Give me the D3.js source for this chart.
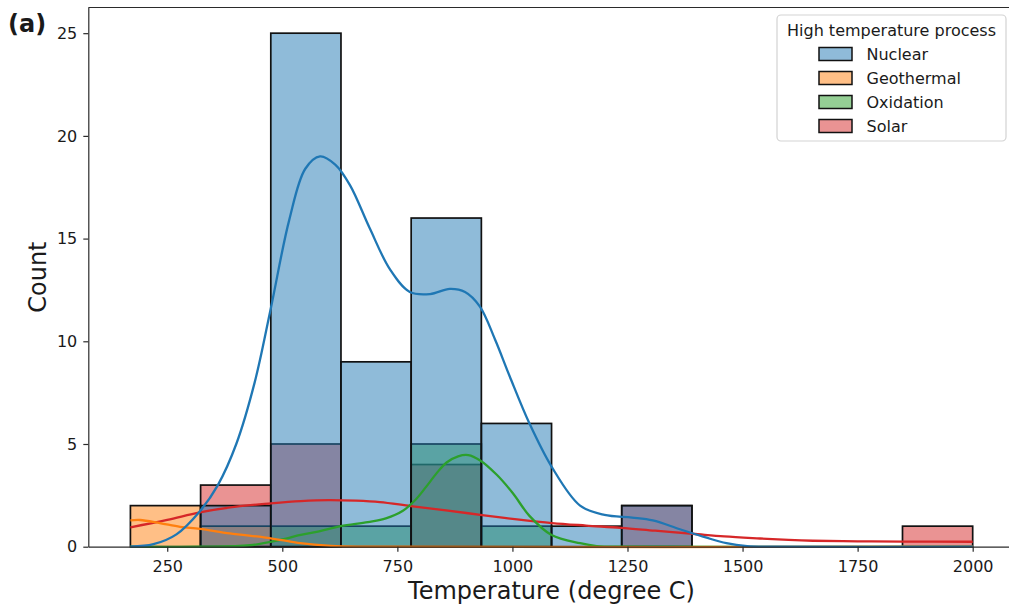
<!DOCTYPE html>
<html><head><meta charset="utf-8">
<script src="https://cdn.jsdelivr.net/npm/d3@7"></script>
<style>
body{margin:0;background:#fff}
svg text{font-family:"DejaVu Sans",sans-serif;fill:#1a1a1a}
</style>
</head><body>
<svg id="c" width="1009" height="608"></svg>
<script>
// ---------- data ----------
const categories = ["Nuclear", "Geothermal", "Oxidation", "Solar"];
const binEdges = [170, 322.5, 475, 627.5, 780, 932.5, 1085, 1237.5, 1390, 1542.5, 1695, 1847.5, 2000];
const nuclearCounts    = [0, 2, 25, 9, 16, 6, 1, 2, 0, 0, 0, 0];
const geothermalCounts = [2, 1, 0, 0, 0, 0, 0, 0, 0, 0, 0, 0];
const oxidationCounts  = [0, 0, 1, 1, 5, 1, 0, 0, 0, 0, 0, 0];
const solarCounts      = [0, 3, 5, 0, 4, 0, 0, 2, 0, 0, 0, 1];

// KDE curves (temperature, count-scaled density)
const nuclearKde = [[170,0],[220,0.12],[270,0.6],[320,1.7],[360,3.0],[400,5.0],[440,8.0],[475,11.6],[515,15.9],[550,18.4],[582,19.0],[615,18.6],[647,17.6],[690,15.5],[734,13.5],[777,12.4],[821,12.3],[864,12.55],[897,12.4],[929,11.7],[962,10.1],[994,8.3],[1037,6.0],[1085,3.9],[1147,2.0],[1200,1.55],[1260,1.42],[1305,1.28],[1364,0.85],[1420,0.45],[1465,0.17],[1510,0.03],[1570,0],[2000,0]];
const geothermalKde = [[170,1.28],[191,1.3],[234,1.15],[278,0.97],[321,0.87],[386,0.65],[475,0.41],[534,0.19],[606,0.04],[680,0],[2000,0]];
const oxidationKde = [[170,0],[320,0],[430,0.07],[495,0.33],[540,0.57],[580,0.75],[627,1.0],[686,1.2],[725,1.38],[762,1.75],[790,2.3],[812,2.9],[835,3.57],[857,4.1],[882,4.4],[904,4.46],[930,4.2],[966,3.5],[1001,2.6],[1037,1.5],[1085,0.57],[1147,0.17],[1183,0.03],[1250,0],[2000,0]];
const solarKde = [[170,0.94],[250,1.3],[321,1.67],[400,1.95],[475,2.11],[540,2.22],[600,2.27],[660,2.24],[712,2.17],[779,1.98],[860,1.76],[934,1.54],[1010,1.33],[1086,1.15],[1160,1.03],[1236,0.92],[1310,0.78],[1392,0.63],[1460,0.5],[1538,0.4],[1600,0.33],[1653,0.29],[1750,0.26],[1850,0.25],[2000,0.24]];

const xTicks = [250, 500, 750, 1000, 1250, 1500, 1750, 2000];
const yTicks = [0, 5, 10, 15, 20, 25];
const palette = ["#1f77b4", "#ff7f0e", "#2ca02c", "#d62728"];

// ---------- chart ----------
const svg = d3.select("#c");
const x = d3.scaleLinear().domain([78.5, 2091.5]).range([88.3, 1014.8]);
const y = d3.scaleLinear().domain([0, 26.25]).range([546.7, 7.5]);
const color = d3.scaleOrdinal().domain(categories).range(palette);

const series = [
  {name: categories[0], counts: nuclearCounts, kde: nuclearKde},
  {name: categories[1], counts: geothermalCounts, kde: geothermalKde},
  {name: categories[2], counts: oxidationCounts, kde: oxidationKde},
  {name: categories[3], counts: solarCounts, kde: solarKde}
];
const drawOrder = series.slice().reverse();

// bars (layered; first hue ends up on top)
drawOrder.forEach(s => {
  const bins = s.counts.map((c, i) => ({x0: binEdges[i], x1: binEdges[i + 1], c}))
    .filter(d => d.c > 0);
  svg.append("g").selectAll("rect").data(bins).join("rect")
    .attr("x", d => x(d.x0))
    .attr("width", d => x(d.x1) - x(d.x0))
    .attr("y", d => y(d.c))
    .attr("height", d => y(0) - y(d.c))
    .attr("fill", color(s.name))
    .attr("fill-opacity", 0.5)
    .attr("stroke", "#111")
    .attr("stroke-width", 1.7);
});

// kde lines
const line = d3.line().x(d => x(d[0])).y(d => y(Math.max(0, d[1]))).curve(d3.curveCatmullRom.alpha(0.5));
drawOrder.forEach(s => {
  svg.append("path").datum(s.kde)
    .attr("d", line)
    .attr("fill", "none")
    .attr("stroke", color(s.name))
    .attr("stroke-width", 2.3);
});

// axes
const spine = "#2b2b2b";
const fmt = d3.format("d");
const gx = svg.append("g").attr("transform", `translate(0,${y(0)})`)
  .call(d3.axisBottom(x).tickValues(xTicks).tickFormat(fmt).tickSize(5).tickPadding(8.5).tickSizeOuter(0));
const gy = svg.append("g").attr("transform", `translate(${x.range()[0]},0)`)
  .call(d3.axisLeft(y).tickValues(yTicks).tickFormat(fmt).tickSize(5).tickPadding(6).tickSizeOuter(0));
[gx, gy].forEach(g => {
  g.attr("font-family", null).attr("font-size", null);
  g.select(".domain").attr("stroke", spine).attr("stroke-width", 1.2);
  g.selectAll(".tick line").attr("stroke", spine).attr("stroke-width", 1.2);
  g.selectAll(".tick text").attr("font-size", 16).attr("fill", "#1a1a1a");
});
// top spine
svg.append("line")
  .attr("x1", x.range()[0]).attr("x2", x.range()[1])
  .attr("y1", y.range()[1]).attr("y2", y.range()[1])
  .attr("stroke", spine).attr("stroke-width", 1.2);

// axis labels
svg.append("text").attr("x", (x.range()[0] + x.range()[1]) / 2).attr("y", 599)
  .attr("text-anchor", "middle").attr("font-size", 24).text("Temperature (degree C)");
svg.append("text")
  .attr("transform", `translate(46,${(y.range()[0] + y.range()[1]) / 2}) rotate(-90)`)
  .attr("text-anchor", "middle").attr("font-size", 24).text("Count");

// panel label
svg.append("text").attr("x", 8).attr("y", 32).attr("font-size", 24)
  .attr("font-weight", "bold").text("(a)");

// legend
const lg = svg.append("g");
lg.append("rect").attr("x", 777).attr("y", 15).attr("width", 229).attr("height", 126)
  .attr("rx", 4).attr("fill", "#fff").attr("fill-opacity", 0.85)
  .attr("stroke", "#d3d3d3").attr("stroke-width", 1.2);
lg.append("text").attr("x", 891.5).attr("y", 30.5).attr("dy", "0.35em")
  .attr("text-anchor", "middle").attr("font-size", 16).text("High temperature process");
series.forEach((s, i) => {
  const cy = 54 + i * 24;
  lg.append("rect").attr("x", 819).attr("y", cy - 6.5).attr("width", 33).attr("height", 13)
    .attr("fill", color(s.name)).attr("fill-opacity", 0.5)
    .attr("stroke", "#111").attr("stroke-width", 1.5);
  lg.append("text").attr("x", 866.5).attr("y", cy).attr("dy", "0.35em")
    .attr("font-size", 16).text(s.name);
});
</script>
</body></html>
